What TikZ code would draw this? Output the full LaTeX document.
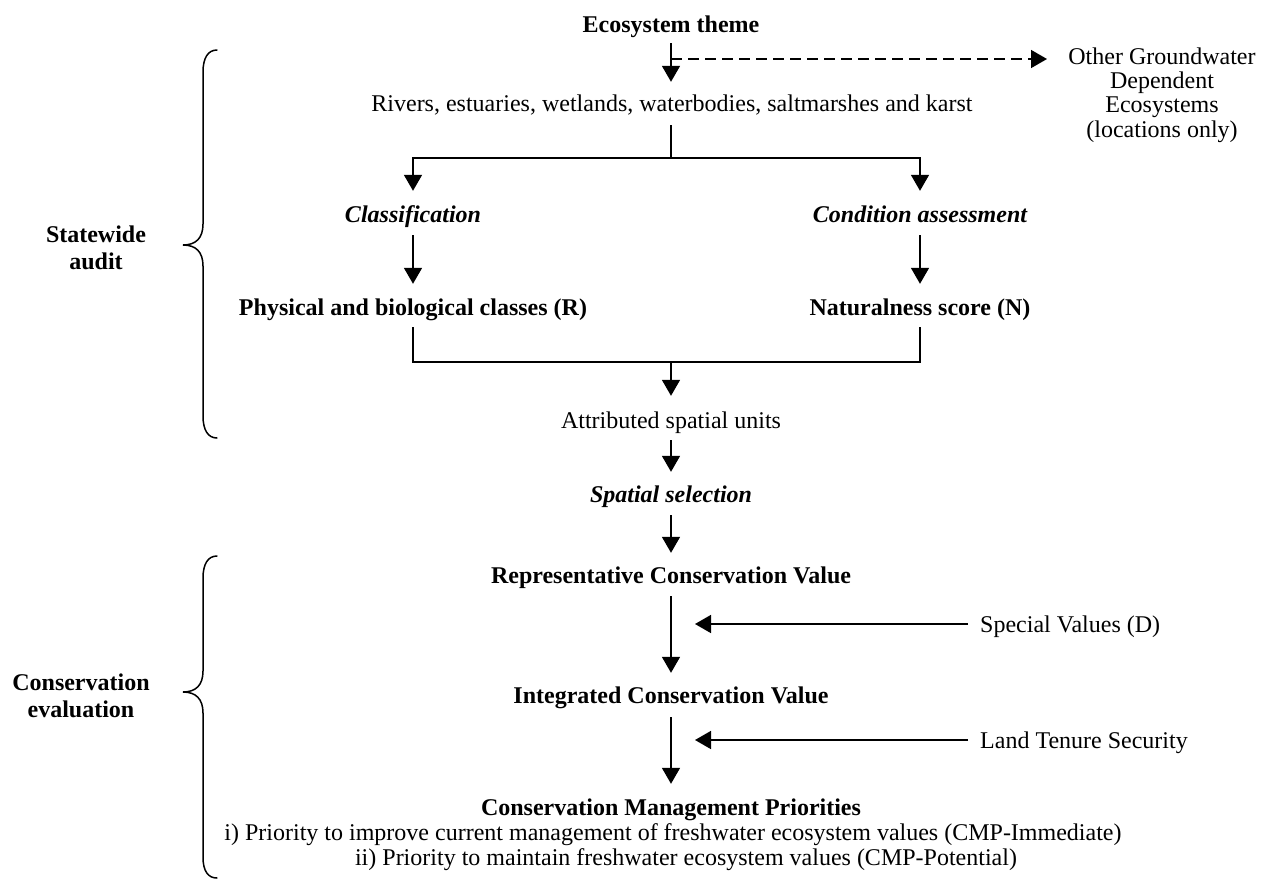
\documentclass[tikz,border=0pt]{standalone}
\usepackage{fontspec}
\setmainfont{Liberation Serif}
\usetikzlibrary{arrows.meta}
\begin{document}
\begin{tikzpicture}[x=1pt,y=-1pt,
  txt/.style={inner sep=0pt, text height=16pt, text depth=5pt, font=\fontsize{24}{24.3}\selectfont},
  btxt/.style={txt, font=\fontsize{24}{24.3}\selectfont\bfseries},
  bitxt/.style={txt, font=\fontsize{24}{24.3}\selectfont\bfseries\itshape},
  mtxt/.style={inner sep=0pt, align=center, font=\fontsize{24}{24.3}\selectfont},
  mbtxt/.style={inner sep=0pt, align=center, font=\fontsize{24}{27}\selectfont\bfseries},
  conn/.style={line width=1.6pt, draw=black},
  arr/.style={conn, -{Triangle[length=16pt,width=18pt]}},
  darr/.style={arr, dash pattern=on 11pt off 6pt},
  brace/.style={line width=1.5pt, line cap=round}
]
\useasboundingbox (0,0) rectangle (1270,879);

% nodes
\node[btxt, anchor=base] (eco) at (671,32) {Ecosystem theme};
\node[txt, anchor=base] (riv) at (672,111) {Rivers, estuaries, wetlands, waterbodies, saltmarshes and karst};
\node[mtxt] (ogw) at (1162,95) {Other Groundwater\\Dependent\\Ecosystems\\(locations only)};
\node[bitxt, anchor=base] (cls) at (413,222) {Classification};
\node[bitxt, anchor=base] (cnd) at (920,222) {Condition assessment};
\node[btxt, anchor=base] (phy) at (413,315) {Physical and biological classes (R)};
\node[btxt, anchor=base] (nat) at (920,315) {Naturalness score (N)};
\node[txt, anchor=base] (att) at (671,428) {Attributed spatial units};
\node[bitxt, anchor=base] (sel) at (671,502) {Spatial selection};
\node[btxt, anchor=base] (rep) at (671,583) {Representative Conservation Value};
\node[btxt, anchor=base] (int) at (671,703) {Integrated Conservation Value};
\node[btxt, anchor=base] (cmp) at (671,815) {Conservation Management Priorities};
\node[txt, anchor=base] (cmpa) at (673,840) {i) Priority to improve current management of freshwater ecosystem values (CMP-Immediate)};
\node[txt, anchor=base] (cmpb) at (686,865) {ii) Priority to maintain freshwater ecosystem values (CMP-Potential)};
\node[txt, anchor=base west] (spv) at (980,632) {Special Values (D)};
\node[txt, anchor=base west] (lts) at (980,748) {Land Tenure Security};
\node[mbtxt] (swa) at (96,248) {Statewide\\audit};
\node[mbtxt] (cev) at (81,696) {Conservation\\evaluation};

% coordinates
\coordinate (j0) at (671,59);
\coordinate (ogwin) at (1047,59);
\coordinate (j1) at (671,158);
\coordinate (j2) at (671,362);
\coordinate (svt) at (695,624);
\coordinate (ltt) at (695,740);

% connectors
\draw[arr] ([yshift=-6pt]eco.south) -- ([yshift=13pt]eco.south |- riv.north);
\draw[darr] (j0) -- (ogwin);
\draw[conn] ([yshift=-9pt]riv.south -| j1) -- (j1);
\draw[arr] (j1) -| ([yshift=15pt]cls.north);
\draw[arr] (j1) -| ([yshift=15pt]cnd.north);
\draw[arr] ([yshift=-8pt]cls.south) -- ([yshift=15pt]phy.north);
\draw[arr] ([yshift=-8pt]cnd.south) -- ([yshift=15pt]nat.north);
\draw[conn] ([yshift=-7pt]phy.south) |- (j2) -| ([yshift=-7pt]nat.south);
\draw[arr] (j2) -- ([yshift=16pt]att.north);
\draw[arr] ([yshift=-7pt]att.south) -- ([yshift=14pt]sel.north);
\draw[arr] ([yshift=-8pt]sel.south) -- ([yshift=14pt]rep.north);
\draw[arr] ([yshift=-8pt]rep.south) -- ([yshift=14pt]int.north);
\draw[arr] ([yshift=-9pt]int.south) -- ([yshift=15pt]cmp.north);
\draw[arr] ([xshift=-12pt]spv.west |- svt) -- (svt);
\draw[arr] ([xshift=-12pt]lts.west |- ltt) -- (ltt);

% braces
\draw[brace] (217,50) .. controls (208,50) and (203,58) .. (203,72) -- (203,224)
  .. controls (203,238) and (196,245) .. (183,245)
  .. controls (196,245) and (203,252) .. (203,266) -- (203,416)
  .. controls (203,430) and (208,438) .. (217,438);
\draw[brace] (217,556) .. controls (208,556) and (203,564) .. (203,578) -- (203,671)
  .. controls (203,685) and (196,692) .. (183,692)
  .. controls (196,692) and (203,699) .. (203,713) -- (203,857)
  .. controls (203,871) and (208,878) .. (217,878);
\end{tikzpicture}
\end{document}
